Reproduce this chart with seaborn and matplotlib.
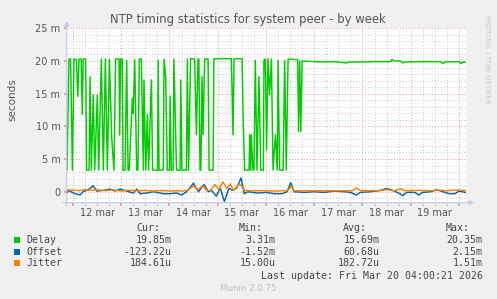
import matplotlib
matplotlib.use("Agg")
import matplotlib.pyplot as plt
import pandas as pd
import seaborn as sns
from matplotlib.patches import Rectangle

W, H = 497, 299

title = "NTP timing statistics for system peer - by week"
day_labels = ["12 mar", "13 mar", "14 mar", "15 mar", "16 mar", "17 mar", "18 mar", "19 mar"]
y_tick_values = [0, 5, 10, 15, 20, 25]
y_tick_labels = ["0", "5 m", "10 m", "15 m", "20 m", "25 m"]

# hours since 12 mar 00:00, values in milliseconds
delay_hours = [-3.0, -2.0, -1.2, -0.3, 0.5, 1.7, 2.4, 3.0, 4.1, 4.6, 5.1, 6.3, 6.8, 8.0, 8.5, 9.1,
               10.1, 10.8, 12.1, 12.8, 14.1, 15.1, 16.1, 17.1, 18.1, 19.2, 19.7, 20.4, 21.2, 22.9,
               23.2, 23.7, 24.5, 24.9, 25.9, 26.7, 27.4, 28.0, 29.5, 30.0, 30.7, 31.7, 32.3, 33.0,
               34.0, 35.0, 35.3, 36.2, 37.0, 37.6, 39.0, 39.6, 42.0, 42.4, 42.8, 44.9, 45.3, 46.1,
               46.9, 48.0, 48.3, 48.9, 49.8, 50.2, 51.5, 53.3, 53.6, 54.2, 56.4, 56.9, 57.5, 58.5,
               60.5, 61.4, 62.2, 62.6, 63.2, 63.6, 64.2, 64.7, 65.5, 67.2, 67.7, 69.7, 70.1, 78.8,
               79.6, 80.1, 84.1, 84.6, 85.4, 87.6, 87.9, 88.4, 88.7, 89.5, 90.0, 90.7, 91.5, 92.5,
               93.4, 94.7, 95.0, 95.7, 96.3, 97.0, 97.8, 98.7, 99.5, 100.7, 101.6, 102.0, 102.8,
               104.5, 105.3, 106.1, 107.0, 111.8, 112.2, 112.8, 113.3, 114.0, 120, 126, 130, 136,
               137, 145, 150, 158, 158.5, 160, 163, 164, 165, 175, 183, 184, 185, 192, 193, 194, 195.5]
delay_ms = [3.3, 20.3, 20.3, 3.3, 20.3, 20.2, 14.6, 20.3, 20.3, 11.8, 20.3, 20.3, 3.3, 3.3, 17.6, 3.3,
            14.8, 3.3, 14.8, 3.3, 20.3, 3.3, 20.3, 3.3, 20.3, 8.7, 6.2, 3.3, 20.3, 20.3,
            8.7, 20.3, 20.3, 3.3, 3.3, 20.1, 3.3, 3.3, 14.3, 12.0, 20.2, 3.3, 3.3, 20.3,
            20.3, 3.3, 17.1, 3.3, 11.8, 3.3, 17.1, 3.3, 3.3, 20.1, 3.3, 3.3, 20.3, 17.6,
            3.3, 3.3, 14.6, 3.3, 3.3, 20.3, 3.3, 3.3, 17.1, 3.3, 3.3, 20.3, 3.3, 20.35,
            20.3, 8.7, 20.3, 20.3, 3.3, 3.3, 17.6, 8.7, 20.3, 20.3, 3.3, 3.3, 20.35, 20.35,
            8.7, 20.35, 20.35, 11.8, 3.31, 3.3, 8.7, 3.3, 8.7, 3.3, 3.3, 20.1, 3.3, 17.6,
            3.3, 3.3, 20.1, 20.3, 6.4, 20.35, 14.8, 20.3, 3.3, 8.7, 3.3, 20.1, 3.3,
            3.3, 20.1, 3.3, 20.3, 20.2, 9.2, 20.0, 9.2, 20.0, 19.9, 19.85, 19.9, 19.7,
            19.85, 19.85, 19.9, 19.9, 20.2, 20.0, 20.0, 19.7, 19.85, 19.9, 19.9, 19.6, 19.85, 19.9, 19.6, 19.85, 19.85]

offset_hours = [-3.1, -2.2, -1.0, 1.0, 3.5, 5.0, 7.5, 10.1, 11.8, 15, 18.4, 20.9, 23.4, 26.7, 30, 31.7,
                33.3, 36.6, 40, 45, 48.3, 51.6, 54.0, 56.6, 59.9, 62.4, 65.2, 67.3, 69, 71.3, 73.2,
                75.3, 77.5, 79.5, 81.5, 83.6, 85.2, 87, 92, 96, 100, 104, 106.5, 108.3, 110, 115,
                120, 125, 130, 135, 138, 141, 143, 148, 153, 156, 159, 162, 164, 166, 170, 172,
                174, 178, 181, 184, 187, 190, 192, 195.5]
offset_ms = [-0.2, 0.2, 0.0, -0.3, -0.5, 0.0, 0.3, 0.9, 0.1, 0.2, 0.4, 0.1, 0.4, 0.1, -0.2, 0.4,
             -0.3, -0.2, 0.0, -0.3, -0.3, -0.2, -0.5, 0.0, 1.3, 0.0, 1.1, 0.0, 0.2, -0.7, 0.6,
             -1.5, 0.5, 0.2, 0.6, 2.1, -0.3, 0.0, -0.2, -0.1, -0.3, -0.3, 0.0, 1.4, 0.0, -0.1,
             0.0, -0.1, 0.1, 0.0, -0.1, -0.5, -0.1, 0.0, 0.2, 0.5, 0.2, -0.2, -0.6, -0.1, -0.1, -0.5,
             -0.1, 0.0, 0.3, 0.0, -0.3, -0.3, 0.1, -0.12]

jitter_hours = [-3.1, -2.5, 0, 3, 6, 9, 12, 16, 20, 24, 28, 32, 36, 40, 44, 48, 52, 55, 57.5, 60, 62,
                64.5, 66.5, 68.5, 70.6, 72.5, 74.6, 76.5, 78.2, 79.8, 82, 83.5, 85.2, 88, 95, 100,
                105, 107, 108.5, 110, 120, 130, 139, 141, 143, 150, 154, 156, 158, 160, 163, 165,
                172, 178, 181, 186, 190, 195.5]
jitter_ms = [0.1, 0.3, 0.25, 0.15, 0.3, 0.2, 0.3, 0.15, 0.3, 0.1, 0.25, 0.15, 0.2, 0.1, 0.2, 0.1, 0.15,
             0.1, 0.3, 0.9, 0.3, 0.9, 0.2, 0.2, 1.1, 0.3, 1.5, 0.5, 1.2, 0.2, 1.0, 1.1, 0.2, 0.15,
             0.15, 0.1, 0.15, 0.2, 0.8, 0.15, 0.15, 0.15, 0.15, 0.6, 0.15, 0.15, 0.2, 0.35, 0.2,
             0.15, 0.45, 0.15, 0.2, 0.15, 0.25, 0.15, 0.25, 0.18]

legend_names = ["Delay", "Offset", "Jitter"]
legend_cur = ["19.85m", "-123.22u", "184.61u"]
legend_min = ["3.31m", "-1.52m", "15.00u"]
legend_avg = ["15.69m", "60.68u", "182.72u"]
legend_max = ["20.35m", "2.15m", "1.51m"]
colors = ["#00CC00", "#0066B3", "#FF8000"]
last_update = "Last update: Fri Mar 20 04:00:21 2026"
footer = "Munin 2.0.75"
side_text = "RRDTOOL / TOBI OETIKER"

sns.set_theme(style="white")
plt.rcParams["font.family"] = ["DejaVu Sans"]

fig = plt.figure(figsize=(W / 100, H / 100), dpi=100, facecolor="#F0F0F0")

def fx(x):
    return x / W

def fy(y):
    return 1 - y / H

ax_l, ax_r, ax_t, ax_b = 66.7, 466.0, 28.3, 202.7
ax = fig.add_axes([fx(ax_l), fy(ax_b), fx(ax_r - ax_l), (ax_b - ax_t) / H])
ax.set_facecolor("white")

x_min, x_max = -3.13, 195.5
y_min, y_max = -1.68, 25.0

grid_minor = "#CCCCCC"
grid_major = "#E89A9A"
dot = (0, (1, 2))

# grid
day_bounds = list(range(0, 193, 24))
six_h = [h for h in range(6, 196, 6) if h % 24 != 0]
ax.set_xticks(day_bounds)
ax.set_xticks(six_h, minor=True)
ax.set_yticks(y_tick_values)
ax.set_yticks([v for v in range(-1, 25) if v % 5 != 0], minor=True)
ax.grid(which="minor", color=grid_minor, linestyle=dot, linewidth=0.7)
ax.grid(which="major", color=grid_major, linestyle=dot, linewidth=0.7)
ax.set_axisbelow(True)

series = [
    ("Delay", delay_hours, delay_ms),
    ("Offset", offset_hours, offset_ms),
    ("Jitter", jitter_hours, jitter_ms),
]
for (name, hrs, vals), col in zip(series, colors):
    df = pd.DataFrame({"hour": hrs, "ms": vals})
    sns.lineplot(data=df, x="hour", y="ms", ax=ax, color=col, linewidth=1.05,
                 estimator=None, sort=False)

ax.set_xlim(x_min, x_max)
ax.set_ylim(y_min, y_max)
ax.set_xlabel("")
ax.set_ylabel("")
for s in ax.spines.values():
    s.set_visible(False)

ax.set_yticklabels(y_tick_labels)
ax.set_xticklabels([""] * len(day_bounds))
ax.tick_params(axis="y", which="major", length=2, color=grid_major, labelsize=7,
               labelcolor="#555555", pad=2.5, left=True)
ax.tick_params(axis="y", which="minor", length=0)
ax.tick_params(axis="x", which="major", length=2, color=grid_major, bottom=True)
ax.tick_params(axis="x", which="minor", length=2, color=grid_minor, bottom=True)

# day labels at noon
xt = ax.get_xaxis_transform()
for i, lab in enumerate(day_labels):
    ax.text(12 + 24 * i, (ax_b - 212.7) / (ax_b - ax_t), lab, transform=xt, ha="center",
            va="center", fontsize=7, color="#555555")

# axis arrows
axis_col = "#BFC6F2"
ax.annotate("", xy=(0, (ax_b - 21.0) / (ax_b - ax_t)), xytext=(0, -0.015), xycoords="axes fraction",
            arrowprops=dict(arrowstyle="-|>", color=axis_col, lw=0.8, mutation_scale=7,
                            shrinkA=0, shrinkB=0), annotation_clip=False)
ax.annotate("", xy=((474 - ax_l) / (ax_r - ax_l), 0), xytext=(-0.01, 0), xycoords="axes fraction",
            arrowprops=dict(arrowstyle="-|>", color=axis_col, lw=0.8, mutation_scale=7,
                            shrinkA=0, shrinkB=0), annotation_clip=False)

# title and labels
fig.text(fx(248), fy(19.3), title, ha="center", va="center", fontsize=8.4, color="#555555")
fig.text(fx(12), fy(100), "seconds", rotation=90, ha="center", va="center", fontsize=7.5,
         color="#555555")
fig.text(fx(487.5), fy(15), side_text, rotation=270, ha="center", va="top", fontsize=5.0,
         color="#C8C8C8")

# legend block
mono = "DejaVu Sans Mono"
lc = "#444444"
fs = 7.1
headers = [("Cur:", 160), ("Min:", 263), ("Avg:", 367), ("Max:", 470)]
for txt, xr in headers:
    fig.text(fx(xr), fy(228.3), txt, ha="right", va="center", fontsize=fs, family=mono, color=lc)
row_y = [240.0, 251.7, 263.3]
for i in range(3):
    fig.patches.append(Rectangle((fx(14), fy(row_y[i] + 3)), 6 / W, 6 / H, transform=fig.transFigure,
                                 facecolor=colors[i], edgecolor="none"))
    fig.text(fx(26), fy(row_y[i]), legend_names[i], ha="left", va="center", fontsize=fs, family=mono, color=lc)
    for vals, xr in zip([legend_cur, legend_min, legend_avg, legend_max], [171.7, 275.3, 379.3, 482.7]):
        fig.text(fx(xr), fy(row_y[i]), vals[i], ha="right", va="center", fontsize=fs, family=mono, color=lc)
fig.text(fx(482.7), fy(275.7), last_update, ha="right", va="center", fontsize=fs, family=mono, color=lc)
fig.text(fx(248), fy(288.3), footer, ha="center", va="center", fontsize=6.2, color="#C0C0C0")

fig.savefig("out.png", dpi=100, facecolor=fig.get_facecolor())
